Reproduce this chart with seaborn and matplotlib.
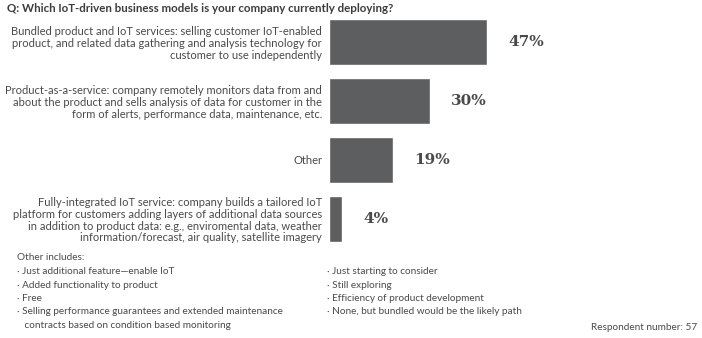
import matplotlib
matplotlib.use("Agg")
import matplotlib.pyplot as plt
import seaborn as sns
import pandas as pd

categories = [
    "Bundled product and IoT services: selling customer IoT-enabled\nproduct, and related data gathering and analysis technology for\ncustomer to use independently",
    "Product-as-a-service: company remotely monitors data from and\nabout the product and sells analysis of data for customer in the\nform of alerts, performance data, maintenance, etc.",
    "Other",
    "Fully-integrated IoT service: company builds a tailored IoT\nplatform for customers adding layers of additional data sources\nin addition to product data: e.g., enviromental data, weather\ninformation/forecast, air quality, satellite imagery",
]
values = [47, 30, 19, 4]

title = "Q: Which IoT-driven business models is your company currently deploying?"
other_header = "Other includes:"
other_left = [
    "\u00b7 Just additional feature\u2014enable IoT",
    "\u00b7 Added functionality to product",
    "\u00b7 Free",
    "\u00b7 Selling performance guarantees and extended maintenance",
    "   contracts based on condition based monitoring",
]
other_right = [
    "\u00b7 Just starting to consider",
    "\u00b7 Still exploring",
    "\u00b7 Efficiency of product development",
    "\u00b7 None, but bundled would be the likely path",
]
respondents = "Respondent number: 57"

sns.set_theme(style="white")
plt.rcParams["font.family"] = ["Lato", "DejaVu Sans"]

BAR = "#5d5e60"
TEXT = "#4a4a4a"

W, H = 702, 338
fig = plt.figure(figsize=(W / 100, H / 100), dpi=100)
ax = fig.add_axes([329 / W, (H - 248.5) / H, 337 / W, 236 / H])

df = pd.DataFrame({"model": categories, "share": values})
sns.barplot(data=df, x="share", y="model", color=BAR, saturation=1,
            width=0.77, ax=ax, orient="h")
ax.set_xlim(0, 100)
ax.set_ylim(3.5, -0.5)
ax.set_xlabel("")
ax.set_ylabel("")
ax.set_xticks([])
sns.despine(ax=ax, left=True, bottom=True)
ax.tick_params(axis="y", length=0, pad=5)
for lab in ax.get_yticklabels():
    lab.set_fontsize(8)
    lab.set_color(TEXT)
    lab.set_horizontalalignment("right")
    lab.set_multialignment("right")
    lab.set_linespacing(1.08)

for cont in ax.containers:
    ax.bar_label(cont, labels=[f"{v}%" for v in values], padding=15,
                 fontsize=11, fontweight="bold", color=TEXT,
                 family=["DejaVu Serif"])

fig.text(7 / W, 1 - 9 / H, title, fontsize=8.3, fontweight="bold",
         color="#3c3c3c", va="center", ha="left")

fs = 7.2
fig.text(17 / W, 1 - 258 / H, other_header, fontsize=fs, color=TEXT,
         va="center", ha="left")
ys_left = [271.5, 285, 298.5, 312, 325]
for y, t in zip(ys_left, other_left):
    fig.text(17 / W, 1 - y / H, t, fontsize=fs, color=TEXT,
             va="center", ha="left")
for y, t in zip(ys_left, other_right):
    fig.text(327 / W, 1 - y / H, t, fontsize=fs, color=TEXT,
             va="center", ha="left")
fig.text(697 / W, 1 - 327 / H, respondents, fontsize=fs, color=TEXT,
         va="center", ha="right")

fig.savefig("out.png", dpi=100, facecolor="white")
